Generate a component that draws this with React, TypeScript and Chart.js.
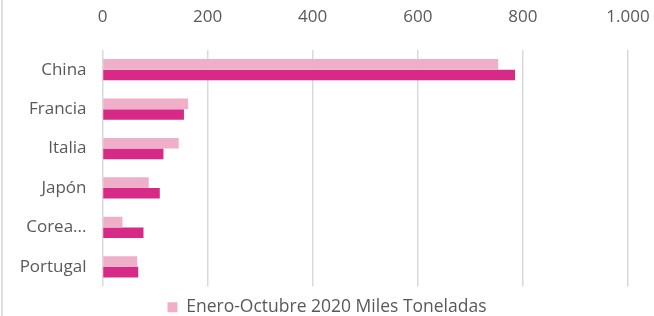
import React, { useEffect, useRef } from "react";
import { Chart, registerables } from "chart.js";

Chart.register(...registerables);

const categories = ["China", "Francia", "Italia", "Japón", "Corea...", "Portugal"];
const series2020 = [753, 163, 145, 88, 38, 66];
const series2021 = [785, 155, 116, 109, 78, 68];
const label2020 = "Enero-Octubre 2020 Miles Toneladas";
const label2021 = "Enero-Octubre 2021 Miles Toneladas";
const xTickMax = 1000;
const xTickStep = 200;

const FONT = "'Open Sans', sans-serif";
const TEXT = "#595959";

export default function App() {
  const ref = useRef<HTMLCanvasElement | null>(null);

  useEffect(() => {
    const canvas = ref.current;
    if (!canvas) return;
    const chart = new Chart(canvas, {
      type: "bar",
      data: {
        labels: categories,
        datasets: [
          {
            label: label2020,
            data: series2020,
            backgroundColor: "#F0AFC9",
            categoryPercentage: 0.54,
            barPercentage: 1,
          },
          {
            label: label2021,
            data: series2021,
            backgroundColor: "#D62A86",
            categoryPercentage: 0.54,
            barPercentage: 1,
          },
        ],
      },
      options: {
        indexAxis: "y",
        animation: false,
        responsive: false,
        maintainAspectRatio: false,
        layout: { padding: { left: 0, right: 0, top: 0, bottom: -10 } },
        scales: {
          x: {
            position: "top",
            min: 0,
            max: xTickMax,
            ticks: {
              stepSize: xTickStep,
              color: TEXT,
              font: { family: FONT, size: 17 },
              padding: 23,
              callback: (v: any) => (Number(v) >= 1000 ? "1.000" : String(v)),
            },
            grid: { color: "#D9D9D9", lineWidth: 1.5, drawTicks: false },
            border: { display: false },
            afterFit: (s: any) => {
              s.height = 50;
              s.paddingRight = 26;
              s.paddingLeft = 0;
            },
          },
          y: {
            ticks: {
              color: TEXT,
              font: { family: FONT, size: 17 },
              padding: 16,
            },
            grid: { display: false, drawTicks: false },
            border: { display: false },
            afterFit: (s: any) => {
              s.width = 102.5;
            },
          },
        },
        plugins: {
          legend: {
            position: "bottom",
            labels: {
              color: TEXT,
              font: { family: FONT, size: 17.5 },
              boxWidth: 10,
              boxHeight: 10,
              padding: 12,
              filter: (item: any) => item.datasetIndex === 0,
            },
          },
          tooltip: { enabled: false },
        },
      },
    });
    return () => chart.destroy();
  }, []);

  return (
    <div style={{ position: "fixed", left: 0, top: 0, width: 654, height: 316, background: "#fff" }}>
      <canvas ref={ref} width={654} height={316} style={{ position: "absolute", left: 0, top: 0, width: 654, height: 316 }} />
      <div style={{ position: "absolute", left: 1, top: 0, width: 2, height: 316, background: "#DEDEDE" }} />
    </div>
  );
}
